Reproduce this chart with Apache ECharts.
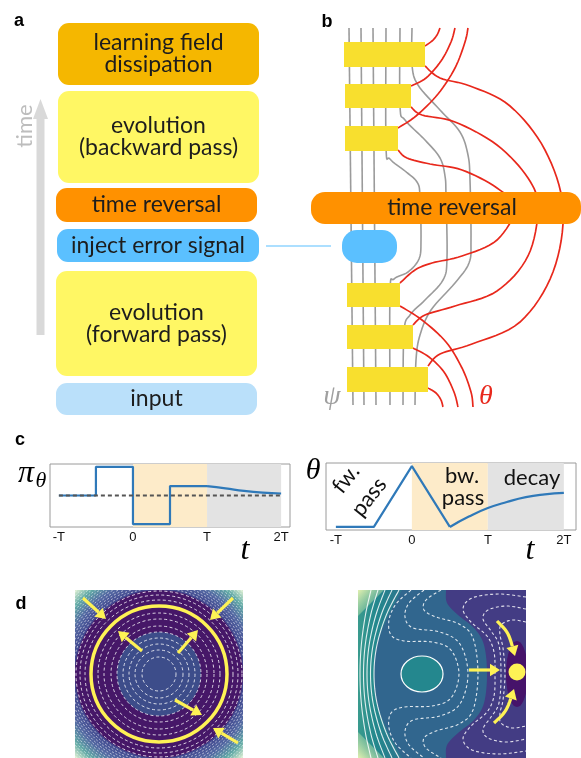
<!DOCTYPE html>
<html>
<head>
<meta charset="utf-8">
<script src="https://cdn.jsdelivr.net/npm/echarts@6/dist/echarts.min.js"></script>
<style>html,body{margin:0;padding:0;background:#fff}#main{width:581px;height:758px}</style>
</head>
<body>
<div id="main"></div>
<script>
// panel c: values (t in units of T)
var tickValues = [-1, 0, 1, 2];
var tickLabels = ['-T', '0', 'T', '2T'];
var piStepT = [-1, -0.5, -0.5, 0, 0, 0.5, 0.5, 1];
var piStepV = [0, 0, 1, 1, -1, -1, 0.33, 0.33];
var piDecayT = [1, 1.25, 1.5, 1.75, 2];
var piDecayV = [0.33, 0.25, 0.16, 0.1, 0.07];
var thetaRampT = [-1, -0.5, 0, 0.5];
var thetaRampV = [0, 0, 1, 0];
var thetaRiseT = [0.5, 0.75, 1, 1.25, 1.5, 1.75, 2];
var thetaRiseV = [0, 0.17, 0.31, 0.41, 0.49, 0.535, 0.56];
var phaseBounds = [0, 1, 2];

// panel a / b labels
var stageLabels = ['learning field\ndissipation', 'evolution\n(backward pass)', 'time reversal',
  'inject error signal', 'evolution\n(forward pass)', 'input'];
// panel d: contour radii of the left landscape (px)
var ringRadii = [17, 24, 30, 36, 42, 48, 55, 61, 74, 79, 83];

var FONT = 'Lato, "Noto Sans", sans-serif';
var SERIF = '"Liberation Serif", "DejaVu Serif", serif';
var blue = '#2f79b9', barYellow = '#f8df2e', red = '#e8281c', grey = '#9b9b9b', arrowYellow = '#fef255';

function pairs(xs, ys) { return xs.map(function (x, i) { return [x, ys[i]]; }); }

// catmull-rom densify, used for the schematic curves
function spline(pts, n) {
  n = n || 8;
  if (pts.length < 3) return pts.slice();
  var out = [pts[0]];
  for (var i = 0; i < pts.length - 1; i++) {
    var p0 = pts[i - 1] || pts[i], p1 = pts[i], p2 = pts[i + 1], p3 = pts[i + 2] || pts[i + 1];
    for (var k = 1; k <= n; k++) {
      var t = k / n, t2 = t * t, t3 = t2 * t;
      out.push([0, 1].map(function (j) {
        return 0.5 * (2 * p1[j] + (-p0[j] + p2[j]) * t + (2 * p0[j] - 5 * p1[j] + 4 * p2[j] - p3[j]) * t2 +
          (-p0[j] + 3 * p1[j] - 3 * p2[j] + p3[j]) * t3);
      }));
    }
  }
  return out;
}
function mirror(top, cy) {
  var res = top.slice();
  for (var i = top.length - 2; i >= 0; i--) res.push([top[i][0], 2 * cy - top[i][1]]);
  return res;
}

var els = [];
function add(e) { e.z = 10; els.push(e); return e; }
function text(x, y, s, font, color, extra) {
  var e = { type: 'text', x: x, y: y, style: { text: s, font: font, fill: color, align: 'center', verticalAlign: 'middle' } };
  if (extra) { for (var k in extra) { if (k === 'style') { for (var q in extra.style) e.style[q] = extra.style[q]; } else e[k] = extra[k]; } }
  return add(e);
}
function rect(x, y, w, h, r, fill) { return add({ type: 'rect', shape: { x: x, y: y, width: w, height: h, r: r }, style: { fill: fill } }); }
function line(pts, color, w, dash) {
  return add({ type: 'polyline', shape: { points: pts }, style: { stroke: color, lineWidth: w, fill: 'none', lineDash: dash || null } });
}
function poly(pts, fill) { return add({ type: 'polygon', shape: { points: pts }, style: { fill: fill } }); }
function arrow(pts, color, w, L) {
  var n = pts.length, b = pts[n - 1], a = pts[Math.max(0, n - 4)];
  var ang = Math.atan2(b[1] - a[1], b[0] - a[0]), W = L * 0.62;
  var base = [b[0] - L * Math.cos(ang), b[1] - L * Math.sin(ang)];
  var shaft = pts.filter(function (p) { return (p[0] - b[0]) * Math.cos(ang) + (p[1] - b[1]) * Math.sin(ang) < -L; });
  shaft.push(base);
  line(shaft, color, w);
  poly([b, [base[0] + W * Math.sin(ang), base[1] - W * Math.cos(ang)], [base[0] - W * Math.sin(ang), base[1] + W * Math.cos(ang)]], color);
}

// ---------- panel labels
var LBL = 'bold 18px "Liberation Sans", Arial, sans-serif';
text(19, 21, 'a', LBL, '#000');
text(327, 22, 'b', LBL, '#000');
text(20, 440, 'c', LBL, '#000');
text(21, 604, 'd', LBL, '#000');

// ---------- panel a
var BOX_FONT = '23px ' + FONT;
var boxes = [[58, 23, 201, 62, '#f5b700'], [58, 91, 201, 92, '#fff764'], [56, 188, 201, 34, '#ff9100'],
  [57, 229, 202, 33, '#5bc0ff'], [56, 271, 201, 105, '#fff764'], [56, 383, 201, 32, '#bae0fa']];
boxes.forEach(function (b, i) {
  rect(b[0], b[1], b[2], b[3], 11, b[4]);
  text(b[0] + b[2] / 2, b[1] + b[3] / 2, stageLabels[i], BOX_FONT, '#1d1d1d', { style: { lineHeight: 22 } });
});
rect(36.5, 116, 8, 219, 0, '#d9d9d9');
poly([[40.5, 99], [33, 119], [48, 119]], '#d9d9d9');
text(25, 126, 'time', '22px ' + FONT, '#bdbdbd', { rotation: Math.PI / 2 });
line([[266, 246], [331, 246]], '#5bc0ff', 1.2);

// ---------- panel b
var gL = [
  [[349, 28], [353, 405]], [[361, 28], [364, 405]], [[373, 28], [376, 405]],
  spline([[386, 28], [386, 146], [390, 159], [405, 171], [417, 182], [420, 196], [421, 240], [419, 259], [408, 272], [394, 279], [390, 292], [390, 405]]),
  spline([[400, 28], [400, 106], [405, 120], [425, 140], [440, 158], [445, 176], [446, 196], [447, 258], [443, 280], [425, 300], [410, 315], [404, 332], [403, 405]]),
  spline([[412, 28], [412, 65], [418, 85], [440, 110], [460, 132], [468, 155], [470, 180], [471, 240], [469, 263], [455, 283], [431, 310], [420, 335], [416, 360], [415, 405]])
];
gL.forEach(function (p) { line(p, grey, 1.6); });
var rL = [
  [[425, 46], [432, 41], [437, 35], [440, 28]],
  [[411, 86], [426, 78], [441, 61], [451, 42], [455, 28]],
  [[398, 128], [416, 116], [438, 94], [455, 68], [465, 42], [468, 28]],
  [[428, 388], [436, 393], [441, 400], [443, 407]],
  [[413, 348], [429, 357], [444, 372], [454, 392], [458, 407]],
  [[400, 306], [422, 320], [446, 342], [462, 368], [471, 392], [473, 407]],
  [[425, 66], [440, 78], [470, 86], [510, 106], [545, 150], [563, 208], [553, 272], [520, 322], [472, 344], [440, 354], [428, 366]],
  [[411, 107], [422, 115], [455, 122], [497, 145], [528, 178], [538, 208], [528, 256], [497, 291], [455, 306], [425, 315], [413, 325]],
  [[398, 150], [407, 158], [430, 164], [462, 170], [497, 188], [515, 208], [497, 240], [462, 256], [432, 263], [415, 270], [400, 283]]
];
rL.forEach(function (p) { line(spline(p), red, 1.7); });
rect(311, 192, 270, 32, 14, '#ff9100');
text(452, 208, stageLabels[2], BOX_FONT, '#1d1d1d');
rect(342, 230, 55, 33, 15, '#5bc0ff');
[[344, 42, 81, 25], [345, 84, 66, 24], [345, 126, 53, 25], [347, 283, 53, 24], [347, 325, 66, 24], [347, 367, 81, 25]]
  .forEach(function (b) { rect(b[0], b[1], b[2], b[3], 0, barYellow); });
text(332, 397, 'ψ', 'italic 28px ' + SERIF, '#a0a0a0');
text(486, 397, 'θ', 'italic 28px ' + SERIF, red);

// ---------- panel c annotations
var NOTE = '22px ' + FONT;
text(26, 474, 'π', 'italic 32px ' + SERIF, '#000');
text(41, 481, 'θ', 'italic 22px ' + SERIF, '#000');
text(313, 471, 'θ', 'italic 30px ' + SERIF, '#000');
text(245, 551, 't', 'italic 32px ' + SERIF, '#000');
text(530, 551, 't', 'italic 32px ' + SERIF, '#000');
text(346, 479, 'fw.', NOTE, '#111', { rotation: 0.9 });
text(369, 497, 'pass', NOTE, '#111', { rotation: 0.9 });
text(462, 476, 'bw.', NOTE, '#111');
text(463, 498, 'pass', NOTE, '#111');
text(532, 478, 'decay', NOTE, '#111');

// ---------- panel d, left landscape
var Lc = [159, 674], H = 84;
add({ type: 'rect', shape: { x: Lc[0] - H, y: Lc[1] - H, width: 2 * H, height: 2 * H },
  style: { fill: { type: 'radial', x: 0.5, y: 0.5, r: 0.71, colorStops: [
    { offset: 0, color: '#434a90' }, { offset: 0.71, color: '#434a90' }, { offset: 0.8, color: '#5368a2' },
    { offset: 0.9, color: '#62aaa6' }, { offset: 1, color: '#e8f5d6' }] } } });
for (var r = 86; r < 119; r += 2.4) {
  var a0 = Math.acos(H / r), a1 = Math.asin(H / r);
  for (var q = 0; q < 4; q++) {
    add({ type: 'arc', shape: { cx: Lc[0], cy: Lc[1], r: r, startAngle: q * Math.PI / 2 + a0, endAngle: q * Math.PI / 2 + a1 },
      style: { stroke: 'rgba(255,255,255,0.6)', lineWidth: 1, lineDash: [2, 2], fill: 'none' } });
  }
}
add({ type: 'circle', shape: { cx: Lc[0], cy: Lc[1], r: H }, style: { fill: '#461768' } });
add({ type: 'circle', shape: { cx: Lc[0], cy: Lc[1], r: 42 }, style: { fill: '#3d4d8a' } });
ringRadii.forEach(function (rr) {
  add({ type: 'circle', shape: { cx: Lc[0], cy: Lc[1], r: rr }, style: { fill: 'none', stroke: 'rgba(255,255,255,0.8)', lineWidth: 1, lineDash: [3, 2.5] } });
});
add({ type: 'circle', shape: { cx: Lc[0], cy: Lc[1], r: 68 }, style: { fill: 'none', stroke: arrowYellow, lineWidth: 3.5 } });
[[[83, 598], [106, 619]], [[233, 598], [210, 620]], [[238, 743], [213, 728]],
  [[142, 651], [118, 631]], [[178, 653], [198, 630]], [[175, 700], [202, 715]]]
  .forEach(function (p) { arrow(p, arrowYellow, 3.2, 10); });

// ---------- panel d, right landscape
var Rx0 = 358, Rx1 = 526, Ry0 = 590, Ry1 = 758, Rcy = 674;
rect(Rx0, Ry0, Rx1 - Rx0, Ry1 - Ry0, 0, '#31668e');
poly([[Rx0, Ry0]].concat(spline([[402, 590], [386, 620], [376, 648], [374, 674], [376, 700], [386, 728], [402, 758]])).concat([[Rx0, Ry1]]),
  { type: 'linear', x: 0, y: 0, x2: 1, y2: 0, colorStops: [{ offset: 0, color: '#3a9b8e' }, { offset: 0.4, color: '#23888d' }, { offset: 1, color: '#2d758d' }] });
poly([[Rx0, Ry0], [384, Ry0], [Rx0, 616]], { type: 'linear', x: 0, y: 0, x2: 1, y2: 1, colorStops: [{ offset: 0, color: '#e2f0b0' }, { offset: 1, color: 'rgba(120,200,160,0)' }] });
poly([[Rx0, Ry1], [384, Ry1], [Rx0, 732]], { type: 'linear', x: 0, y: 1, x2: 1, y2: 0, colorStops: [{ offset: 0, color: '#e2f0b0' }, { offset: 1, color: 'rgba(120,200,160,0)' }] });
[[360, 371], [363.5, 378], [367, 385], [370.5, 392], [374, 399]].forEach(function (a) {
  var pts = [590, 615, 645, 674, 703, 733, 758].map(function (y) { var s = (y - Rcy) / 84; return [a[0] + (a[1] - a[0]) * s * s, y]; });
  line(spline(pts), 'rgba(255,255,255,0.85)', 1.1);
});
var purpleEdge = mirror([[446, 590], [447, 603], [458, 615], [474, 628], [484, 645], [487, 674]], Rcy);
poly(spline(purpleEdge).concat([[Rx1, Ry1], [Rx1, Ry0]]), '#433c84');
var ell = [];
for (var k = 0; k <= 40; k++) { var th = k / 40 * Math.PI * 2; ell.push([Math.min(Rx1, 517 + 11 * Math.cos(th)), Rcy + 33 * Math.sin(th)]); }
poly(ell, '#46136a');
var dashC = [
  [[411, 590], [396, 604], [389, 620], [391, 635], [404, 641], [432, 642], [451, 650], [459, 674]],
  [[424, 590], [409, 603], [405, 617], [413, 628], [440, 632], [460, 644], [468, 674]],
  [[441, 590], [426, 600], [424, 610], [436, 617], [459, 624], [473, 638], [478, 674]],
  [[526, 597], [498, 594], [472, 598], [463, 609], [471, 622], [487, 636], [494, 652], [495, 674]],
  [[526, 609], [506, 606], [488, 610], [483, 619], [491, 631], [499, 645], [501, 674]],
  [[526, 622], [512, 620], [501, 625], [500, 635], [503, 648], [505, 674]]
];
dashC.forEach(function (c) { line(spline(mirror(c, Rcy)), 'rgba(255,255,255,0.85)', 1.1, [3, 2.5]); });
add({ type: 'ellipse', shape: { cx: 422, cy: Rcy, rx: 21, ry: 18 }, style: { fill: '#24878e', stroke: '#fff', lineWidth: 1.2 } });
arrow([[469, 670], [500, 670]], arrowYellow, 3.2, 10);
arrow(spline([[497, 621], [508, 634], [515, 656]]), arrowYellow, 3.2, 10);
arrow(spline([[494, 723], [506, 710], [514, 689]]), arrowYellow, 3.2, 10);
add({ type: 'circle', shape: { cx: 517, cy: 672, r: 8.5 }, style: { fill: arrowYellow } });

// ---------- chart option
function tickFmt(v) { var i = tickValues.indexOf(v); return i < 0 ? '' : tickLabels[i]; }
function xAx(idx, mn, mx) {
  return { gridIndex: idx, type: 'value', min: mn, max: mx, axisLine: { show: false }, axisTick: { show: false }, splitLine: { show: false },
    axisLabel: { customValues: tickValues, formatter: tickFmt, margin: 4, color: '#111', fontSize: 13, fontFamily: '"Liberation Sans", Arial, sans-serif' } };
}
function phaseArea() {
  return { silent: true, data: [
    [{ xAxis: phaseBounds[0], itemStyle: { color: '#fdebc9' } }, { xAxis: phaseBounds[1] }],
    [{ xAxis: phaseBounds[1], itemStyle: { color: '#e3e3e3' } }, { xAxis: phaseBounds[2] }]] };
}
function curve(idx, data, smooth, extra) {
  var s = { type: 'line', xAxisIndex: idx, yAxisIndex: idx, data: data, symbol: 'none', smooth: smooth, silent: true,
    lineStyle: { color: blue, width: 2.2 }, z: 3 };
  for (var k in extra) s[k] = extra[k];
  return s;
}

var chart = echarts.init(document.getElementById('main'), null, { renderer: 'canvas' });
chart.setOption({
  animation: false,
  graphic: { elements: els },
  grid: [
    { left: 50, top: 464, width: 240, height: 63, show: true, borderColor: '#9a9a9a', borderWidth: 1 },
    { left: 326, top: 463, width: 250, height: 67, show: true, borderColor: '#9a9a9a', borderWidth: 1 }
  ],
  xAxis: [xAx(0, -1.12, 2.12), xAx(1, -1.13, 2.16)],
  yAxis: [
    { gridIndex: 0, type: 'value', min: -1.1, max: 1.1, show: false },
    { gridIndex: 1, type: 'value', min: -0.05, max: 1.05, show: false }
  ],
  series: [
    curve(0, pairs(piStepT, piStepV), false, { markArea: phaseArea() }),
    curve(0, pairs(piDecayT, piDecayV), true),
    { type: 'line', xAxisIndex: 0, yAxisIndex: 0, data: [[tickValues[0], 0], [tickValues[3], 0]], symbol: 'none', silent: true,
      lineStyle: { color: '#555', width: 2, type: [4, 3] }, z: 4 },
    curve(1, pairs(thetaRampT, thetaRampV), false, { markArea: phaseArea() }),
    curve(1, pairs(thetaRiseT, thetaRiseV), true)
  ]
});
</script>
</body>
</html>
